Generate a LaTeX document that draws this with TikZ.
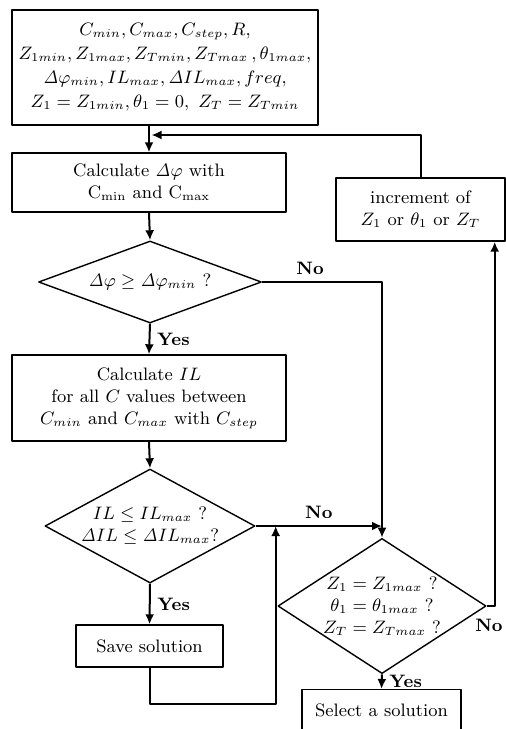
\documentclass[tikz,border=0pt]{standalone}
\usetikzlibrary{shapes.geometric,arrows.meta}
\begin{document}
\begin{tikzpicture}[x=0.5pt,y=-0.5pt,line join=round,>={Latex[length=5pt,width=4.5pt]},font=\small]
	\tikzset{box/.style={draw,line width=0.7pt,align=center,inner sep=2pt},
		test/.style={draw,diamond,line width=0.7pt,align=center,inner sep=0pt},
		flow/.style={line width=1pt},
		lab/.style={font=\small\bfseries}}
	\useasboundingbox (0,0) rectangle (506,729);
	\clip (0,0) rectangle (506,729);
	\node[box,inner sep=1pt,minimum width=153pt,minimum height=57.5pt,font=\fontsize{8.9}{12}\selectfont] (par) at (165,67.5) {$C_{min}, C_{max}, C_{step}, R,$\\ $Z_{1min}, Z_{1max}, Z_{Tmin}, Z_{Tmax}\,, \theta_{1max},$\\ $\mathit{\Delta}\varphi_{min}, IL_{max}, \mathit{\Delta} IL_{max}, freq,$\\ $Z_1 = Z_{1min}, \theta_1 = 0,\ Z_T = Z_{Tmin}$};
	\node[box,minimum width=137pt,minimum height=29.5pt] (calc) at (149,182.5) {Calculate $\mathit{\Delta}\varphi$ with\\ C$_{\mathrm{min}}$ and C$_{\mathrm{max}}$};
	\node[box,minimum width=84.5pt,minimum height=31.5pt] (incr) at (420.5,209.5) {increment of\\ $Z_1$ or $\theta_1$ or $Z_T$};
	\node[test,minimum width=111.5pt,minimum height=41pt,shape aspect=2.7] (d1) at (150,282) {$\mathit{\Delta}\varphi \geq \mathit{\Delta}\varphi_{min}$ ?};
	\node[box,minimum width=137pt,minimum height=43pt] (il) at (149,398) {Calculate $IL$\\ for all $C$ values between\\ $C_{min}$ and $C_{max}$ with $C_{step}$};
	\node[test,minimum width=105pt,minimum height=57pt,shape aspect=1.84] (d2) at (150,526) {$IL \leq IL_{max}$ ?\\ $\mathit{\Delta}IL \leq \mathit{\Delta}IL_{max}$?};
	\node[box,minimum width=73.5pt,minimum height=21pt] (save) at (149.5,646) {Save solution};
	\node[test,minimum width=95pt,minimum height=61.5pt,shape aspect=1.54] (d3) at (382,606) {$Z_1 = Z_{1max}$ ?\\ $\theta_1 = \theta_{1max}$ ?\\ $Z_T = Z_{Tmax}$ ?};
	\node[box,minimum width=79.5pt,minimum height=21pt,anchor=north] (sel) at (381.5,689) {Select a solution};
	\coordinate (back) at (151.5,135);
	\coordinate (merge) at ([xshift=10pt]d2.east);
	\coordinate (low) at ([yshift=-18pt]save.south);
	\draw[flow,->] (par.south -| calc.north) -- (calc.north);
	\draw[flow,->] (incr.north) |- (back);
	\draw[flow,->] (calc.south) -- (d1.north);
	\draw[flow,->] (d1.south) -- node[right,lab]{Yes} (il.north);
	\draw[flow,->] (d1.east) -| node[pos=0.2,above,lab]{No} (d3.north);
	\draw[flow,->] (il.south) -- (d2.north);
	\draw[flow,->] (d2.east) -- node[above,lab]{No} (d3.north |- d2.east);
	\draw[flow,->] (d2.south) -- node[right,lab]{Yes} (save.north);
	\draw[flow,->] (save.south) -- (low) -| (merge);
	\draw[flow,->] (d3.south) -- node[right,lab]{Yes} (sel.north);
	\draw[flow,->] (d3.east) -| ([xshift=-5.5pt]incr.south east);
	\node[lab,anchor=east,inner sep=1pt] (no3) at (505,625) {No};
\end{tikzpicture}
\end{document}
